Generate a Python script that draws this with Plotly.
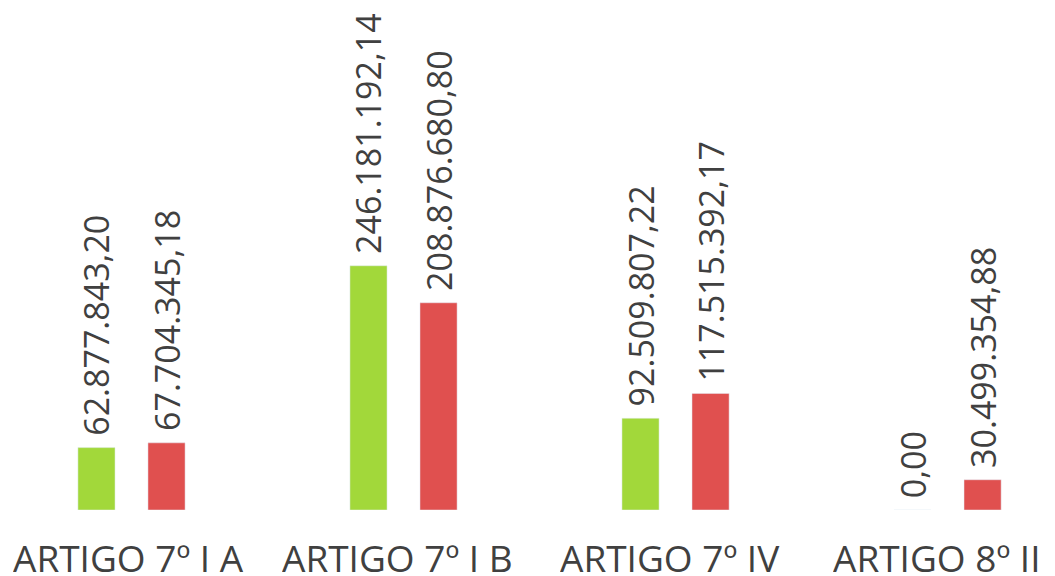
import plotly.graph_objects as go

categories = ["ARTIGO 7º I A", "ARTIGO 7º I B", "ARTIGO 7º IV", "ARTIGO 8º II"]
serie_verde = [62877843.20, 246181192.14, 92509807.22, 0.00]
serie_vermelha = [67704345.18, 208876680.80, 117515392.17, 30499354.88]
rotulos_verde = ["62.877.843,20", "246.181.192,14", "92.509.807,22", "0,00"]
rotulos_vermelha = ["67.704.345,18", "208.876.680,80", "117.515.392,17", "30.499.354,88"]
desvio_rotulo = [-3.5, -6.5, -5.5, -10.5]

pad = "\u00a0"
fig = go.Figure()
fig.add_trace(go.Bar(x=categories, y=serie_verde, text=[pad + t for t in rotulos_verde],
                     marker=dict(color="#A2D83A"), name="A"))
fig.add_trace(go.Bar(x=categories, y=serie_vermelha, text=[pad + t for t in rotulos_vermelha],
                     marker=dict(color="#E0504F"), name="B"))
fig.update_traces(textposition="outside", textangle=-90, constraintext="none",
                  cliponaxis=False,
                  outsidetextfont=dict(family="Open Sans", size=34, color="#404040"))
for c, dx in zip(categories, desvio_rotulo):
    fig.add_annotation(x=c, y=0, xref="x", yref="y", text=c, showarrow=False,
                       xanchor="center", yanchor="top", xshift=dx, yshift=-27,
                       height=38, valign="middle", borderpad=0,
                       font=dict(family="Open Sans", size=37, color="#404040"))
fig.update_layout(
    width=1047, height=568, barmode="group", bargap=0.485, bargroupgap=0.47,
    margin=dict(l=0, r=0, t=0, b=66, autoexpand=False),
    plot_bgcolor="white", paper_bgcolor="white", showlegend=False,
)
fig.update_xaxes(range=[-0.454, 3.395], showgrid=False, zeroline=False, showline=False,
                 showticklabels=False)
fig.update_yaxes(range=[0, 506e6], visible=False)
fig.write_html("out.html")
